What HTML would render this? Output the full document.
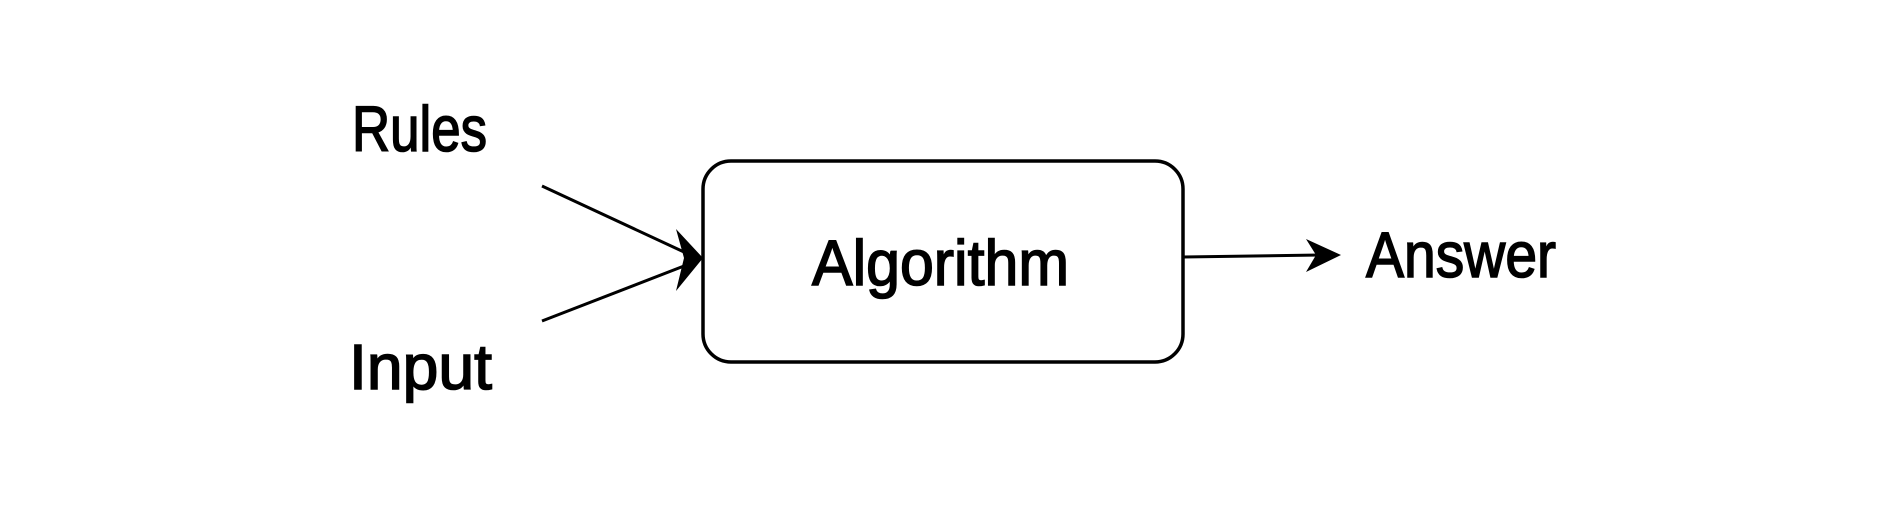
<!DOCTYPE html>
<html><head><meta charset="utf-8"><style>
html,body{margin:0;padding:0;background:#fff;}
body{width:1884px;height:524px;overflow:hidden;}
svg text{font-family:"Comic Sans MS","Liberation Sans",sans-serif;fill:#000;stroke:#000;stroke-width:1.6;}
</style></head><body>
<svg width="1884" height="524" viewBox="0 0 1884 524" xmlns="http://www.w3.org/2000/svg">
<rect x="703" y="161" width="480" height="201" rx="28" ry="28" fill="#fff" stroke="#000" stroke-width="3.5"/>
<line x1="542" y1="186" x2="684" y2="252" stroke="#000" stroke-width="3"/>
<line x1="542" y1="321" x2="684" y2="266" stroke="#000" stroke-width="3"/>
<polygon points="703,258 676,229 684,258 676,291" fill="#000"/>
<line x1="1183" y1="257" x2="1320" y2="255" stroke="#000" stroke-width="3"/>
<polygon points="1341,255 1306,239 1316,255 1306,272" fill="#000"/>
<text x="352" y="151" font-size="64" textLength="135" lengthAdjust="spacingAndGlyphs">Rules</text>
<text x="349" y="389" font-size="64" textLength="143" lengthAdjust="spacingAndGlyphs">Input</text>
<text x="812" y="285" font-size="64" textLength="257" lengthAdjust="spacingAndGlyphs">Algorithm</text>
<text x="1366" y="277" font-size="64" textLength="190" lengthAdjust="spacingAndGlyphs">Answer</text>
</svg>
</body></html>
